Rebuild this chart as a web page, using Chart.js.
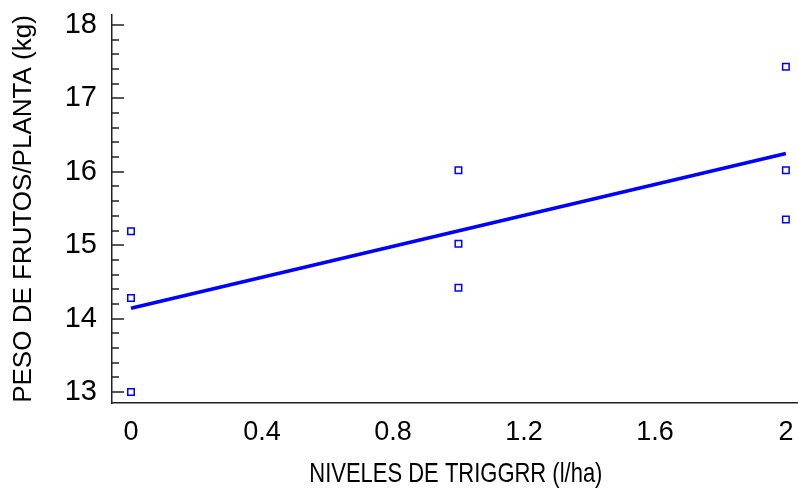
<!DOCTYPE html>
<html><head><meta charset="utf-8">
<script src="https://cdn.jsdelivr.net/npm/chart.js@4"></script>
<style>html,body{margin:0;padding:0;background:#fff;overflow:hidden}canvas{display:block}</style>
</head><body>
<canvas id="c" width="798" height="492"></canvas>
<script>
// Data
const levels  = [0, 0, 0, 1, 1, 1, 2, 2, 2];
const weights = [15.19, 14.28, 13.0, 16.02, 15.02, 14.42, 17.43, 16.02, 15.35];
const fitX = [0, 2];
const fitY = [14.14, 16.25];
const xTicks = [0, 0.4, 0.8, 1.2, 1.6, 2];
const yTicks = [13, 14, 15, 16, 17, 18];
const yMinorTicks = [13.2, 13.4, 13.6, 13.8, 14.2, 14.4, 14.6, 14.8, 15.2, 15.4, 15.6, 15.8,
                     16.2, 16.4, 16.6, 16.8, 17.2, 17.4, 17.6, 17.8];
const xTitle = 'NIVELES DE TRIGGRR (l/ha)';
const yTitle = 'PESO DE FRUTOS/PLANTA (kg)';

const tickMarks = {
  id: 'tickMarks',
  beforeDraw(chart) {
    // horizontally condense the x-axis title (reference uses a narrow face)
    const sx = chart.scales.x;
    if (sx && !sx._narrowTitle) {
      const orig = sx.drawTitle.bind(sx);
      sx.drawTitle = function () {
        const ctx = this.ctx;
        const cx = (this.left + this.right) / 2 + 4;
        ctx.save();
        ctx.translate(cx, 0);
        ctx.scale(0.785, 1);
        ctx.translate(-cx, 0);
        orig();
        ctx.restore();
      };
      sx._narrowTitle = true;
    }
  },
  afterDraw(chart) {
    const ctx = chart.ctx, y = chart.scales.y;
    const x0 = y.right;
    ctx.save();
    ctx.strokeStyle = '#222';
    ctx.lineWidth = 1.5;
    ctx.beginPath();
    yTicks.forEach(v => { const p = Math.round(y.getPixelForValue(v)); ctx.moveTo(x0, p); ctx.lineTo(x0 + 12, p); });
    yMinorTicks.forEach(v => { const p = Math.round(y.getPixelForValue(v)); ctx.moveTo(x0, p); ctx.lineTo(x0 + 7, p); });
    ctx.stroke();
    ctx.restore();
  }
};

new Chart(document.getElementById('c'), {
  type: 'scatter',
  data: {
    datasets: [
      {
        type: 'line',
        data: fitX.map((x, i) => ({ x, y: fitY[i] })),
        borderColor: '#0000ff',
        borderWidth: 3.5,
        pointRadius: 0,
        fill: false,
        order: 2
      },
      {
        data: levels.map((x, i) => ({ x, y: weights[i] })),
        pointStyle: 'rect',
        pointRadius: 4.6,
        borderColor: '#0000ff',
        borderWidth: 1.5,
        backgroundColor: 'rgba(0,0,0,0)',
        showLine: false,
        order: 1
      }
    ]
  },
  options: {
    responsive: false,
    animation: false,
    devicePixelRatio: 1,
    layout: { autoPadding: false, padding: { top: 15, right: 0, left: 0, bottom: 0 } },
    plugins: { legend: { display: false }, tooltip: { enabled: false } },
    scales: {
      x: {
        type: 'linear',
        min: -0.058,
        max: 2.037,
        afterBuildTicks: s => { s.ticks = xTicks.map(v => ({ value: v })); },
        ticks: {
          font: { family: 'Liberation Sans', size: 27 },
          color: '#000',
          padding: 13,
          autoSkip: false,
          maxRotation: 0,
          callback: v => String(v)
        },
        grid: { display: false, drawTicks: false },
        border: { display: true, color: '#222', width: 1.5 },
        title: {
          display: true,
          text: xTitle,
          font: { family: 'Liberation Sans', size: 28 },
          color: '#000',
          padding: { top: 0, bottom: 1 }
        },
        afterFit: s => { s.height = 89; s.paddingLeft = 0; s.paddingRight = 0; }
      },
      y: {
        type: 'linear',
        min: 12.85,
        max: 18.136,
        afterBuildTicks: s => { s.ticks = yTicks.map(v => ({ value: v })); },
        ticks: {
          font: { family: 'Liberation Sans', size: 29 },
          color: '#000',
          padding: 15,
          autoSkip: false,
          callback: v => String(v)
        },
        grid: { display: false, drawTicks: false },
        border: { display: true, color: '#222', width: 1.5 },
        title: {
          display: true,
          text: yTitle,
          font: { family: 'Liberation Sans', size: 26 },
          color: '#000',
          padding: { top: 8, bottom: 0 }
        },
        afterFit: s => { s.width = 112; s.paddingTop = 0; s.paddingBottom = 0; }
      }
    }
  },
  plugins: [tickMarks]
});
</script>
</body></html>
